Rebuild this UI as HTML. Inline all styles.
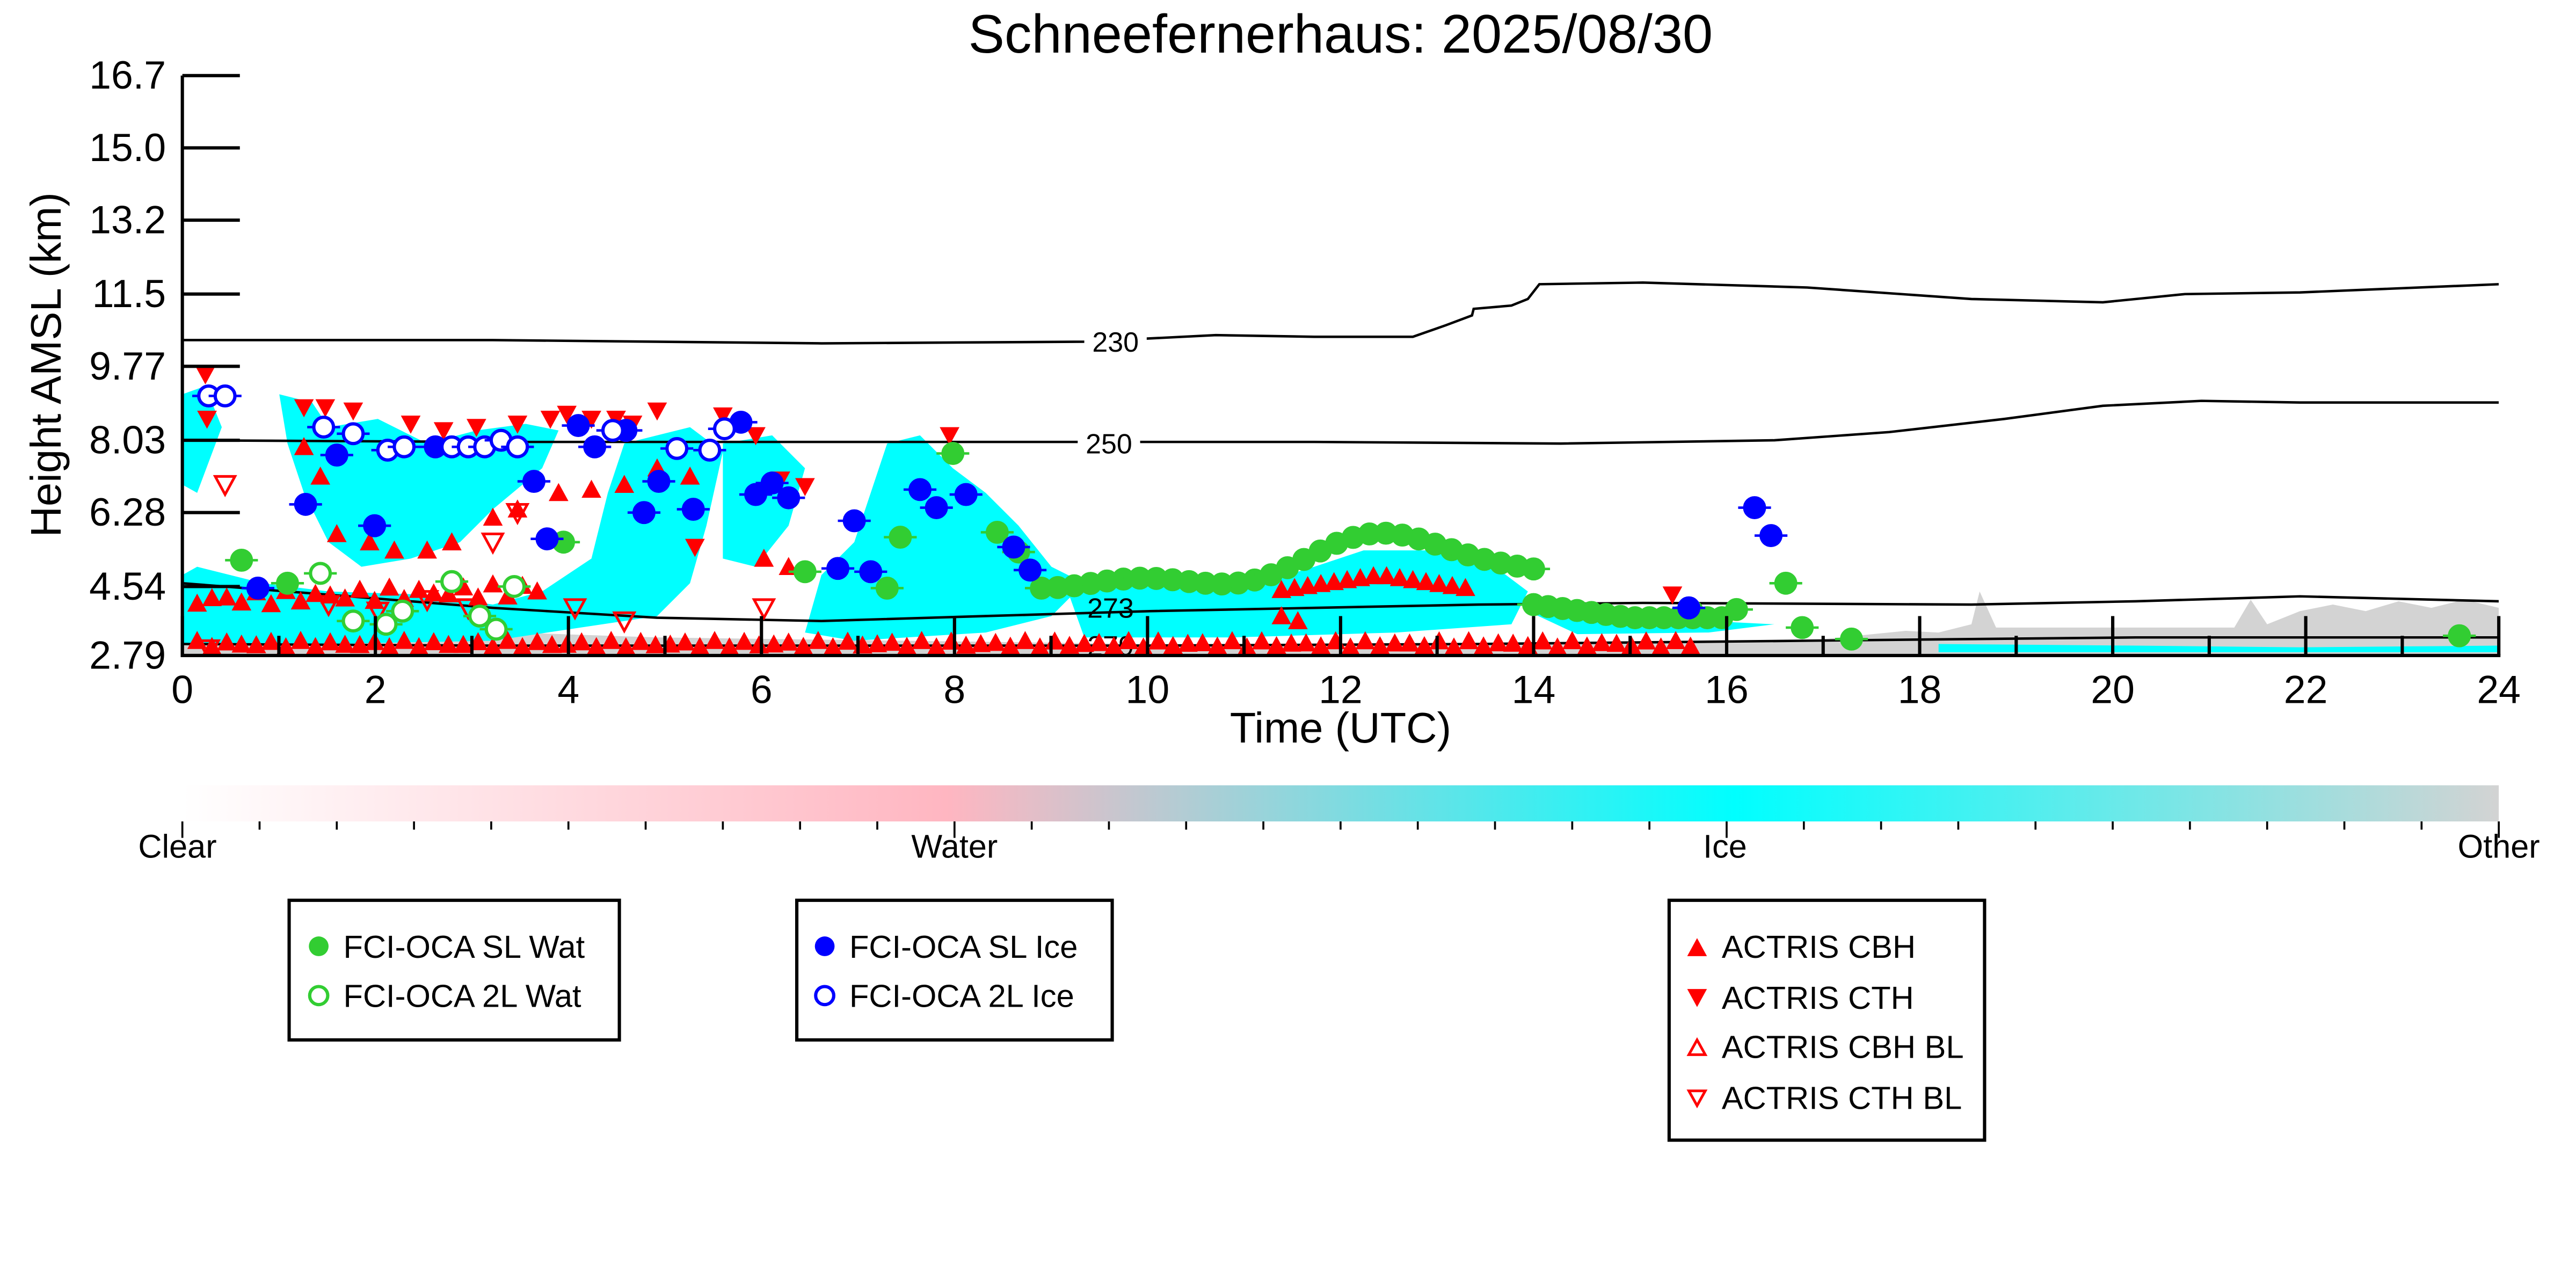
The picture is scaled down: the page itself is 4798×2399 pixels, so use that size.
<!DOCTYPE html>
<html><head><meta charset="utf-8"><style>
html,body{margin:0;padding:0;background:#fff;}
svg{display:block}
text{font-family:"Liberation Sans","DejaVu Sans",sans-serif;}
</style></head><body>
<svg id="s" width="4798" height="2399" viewBox="0 0 1568 784" xmlns="http://www.w3.org/2000/svg">
<defs>
<linearGradient id="cb" x1="0" x2="1" y1="0" y2="0">
<stop offset="0" stop-color="#ffffff"/>
<stop offset="0.33" stop-color="#ffb6c1"/>
<stop offset="0.67" stop-color="#00ffff"/>
<stop offset="1" stop-color="#d3d3d3"/>
</linearGradient>
<clipPath id="pc"><rect x="111" y="46" width="1410" height="353"/></clipPath>
</defs>
<rect width="1568" height="784" fill="#fff"/>
<text x="816" y="32" font-size="33" text-anchor="middle">Schneefernerhaus: 2025/08/30</text>
<g id="plot" clip-path="url(#pc)">
<path d="M111,399 L111,378 L400,388 L700,392 L900,392 L1100,390 L1140,386 L1160,384 L1180,385 L1200,380 L1205,360 L1215,382 L1360,382 L1370,365 L1380,380 L1400,372 L1420,368 L1440,372 L1460,366 L1480,370 L1500,365 L1521,370 L1521,399 Z" fill="#d3d3d3"/>
<g fill="#00ffff">
<path d="M111,240 L125,235 L135,260 L120,300 L111,295 Z"/>
<path d="M170,240 L190,245 L200,260 L230,255 L260,270 L290,262 L320,258 L340,262 L330,285 L300,310 L280,330 L250,340 L220,345 L200,330 L185,300 L175,270 Z"/>
<path d="M120,345 L160,355 L200,360 L260,362 L300,368 L330,360 L360,340 L370,300 L380,270 L420,260 L440,275 L430,320 L420,355 L400,375 L300,390 L200,392 L111,392 L111,350 Z"/>
<path d="M440,270 L470,265 L490,285 L480,320 L460,345 L440,340 Z"/>
<path d="M540,270 L560,265 L580,285 L600,300 L620,320 L640,345 L660,355 L640,375 L600,385 L520,390 L490,385 L500,350 L520,330 L530,300 Z"/>
<path d="M650,360 L700,350 L750,360 L800,345 L830,335 L870,335 L910,345 L930,360 L920,380 L850,385 L750,388 L660,388 Z"/>
<path d="M930,372 L990,375 L1040,378 L1080,380 L1040,385 L960,386 Z"/>
<path d="M1180,392 L1300,393 L1400,394 L1521,393 L1521,397 L1180,397 Z"/>
</g>
<g fill="none" stroke="#000" stroke-width="1.5">
<path d="M111,207 L300,207 L500,209 L660,208 L700,206 L740,204 L800,205 L860,205 L880,198 L896,192 L897,188 L920,186 L930,182 L937,173 L1000,172 L1100,175 L1200,182 L1280,184 L1310,181 L1330,179 L1400,178 L1521,173"/>
<path d="M111,268 L300,269 L500,269 L650,269 L800,269 L950,270 L1080,268 L1150,263 L1220,255 L1280,247 L1340,244 L1400,245 L1521,245"/>
<path d="M111,355 L200,362 L300,370 L400,376 L500,378 L600,375 L700,372 L800,370 L900,368 L1000,367 L1200,368 L1300,366 L1400,363 L1521,366"/>
<path d="M111,392 L300,393 L500,393 L700,393 L900,392 L1100,390 L1300,388 L1521,388"/>
</g>
<g font-size="17" text-anchor="middle">
<rect x="660" y="199" width="38" height="16" fill="#fff"/><text x="679" y="214">230</text>
<rect x="656" y="261" width="38" height="16" fill="#fff"/><text x="675" y="276">250</text>
<text x="676" y="376">273</text>
<text x="676" y="399">279</text>
</g>
<g id="marks"></g>
</g>
<g stroke="#000" stroke-width="2" fill="none">
<line x1="111" y1="46" x2="111" y2="400"/>
<line x1="110" y1="399" x2="1522" y2="399"/>
</g>
<g id="ticks" stroke="#000" stroke-width="2"></g>
<g font-size="24" text-anchor="end">
<text x="101" y="54">16.7</text><text x="101" y="98">15.0</text><text x="101" y="142">13.2</text>
<text x="101" y="187">11.5</text><text x="101" y="231">9.77</text><text x="101" y="276">8.03</text>
<text x="101" y="320">6.28</text><text x="101" y="365">4.54</text><text x="101" y="407">2.79</text>
</g>
<g id="xl" font-size="24" text-anchor="middle"></g>
<text x="816" y="452" font-size="26" text-anchor="middle">Time (UTC)</text>
<text transform="translate(37,222) rotate(-90)" font-size="26" text-anchor="middle">Height AMSL (km)</text>
<rect x="111" y="478" width="1410" height="22" fill="url(#cb)"/>
<g id="cbt" stroke="#000" stroke-width="1.2"></g>
<g font-size="20" text-anchor="middle">
<text x="108" y="522">Clear</text><text x="581" y="522">Water</text><text x="1050" y="522">Ice</text><text x="1521" y="522">Other</text>
</g>
<g fill="none" stroke="#000" stroke-width="2">
<rect x="176" y="548" width="201" height="85"/>
<rect x="485" y="548" width="192" height="85"/>
<rect x="1016" y="548" width="192" height="146"/>
</g>
<g font-size="19.5">
<circle cx="194" cy="576" r="6" fill="#32cd32"/><text x="209" y="583">FCI-OCA SL Wat</text>
<circle cx="194" cy="606" r="5.5" fill="none" stroke="#32cd32" stroke-width="2"/><text x="209" y="613">FCI-OCA 2L Wat</text>
<circle cx="502" cy="576" r="6" fill="#0000ff"/><text x="517" y="583">FCI-OCA SL Ice</text>
<circle cx="502" cy="606" r="5.5" fill="none" stroke="#0000ff" stroke-width="2"/><text x="517" y="613">FCI-OCA 2L Ice</text>
<path d="M1027,582 L1039,582 L1033,571 Z" fill="#f00"/><text x="1048" y="583">ACTRIS CBH</text>
<path d="M1027,602 L1039,602 L1033,613 Z" fill="#f00"/><text x="1048" y="614">ACTRIS CTH</text>
<path d="M1028,642 L1038,642 L1033,633 Z" fill="none" stroke="#f00" stroke-width="1.6"/><text x="1048" y="644">ACTRIS CBH BL</text>
<path d="M1028,664 L1038,664 L1033,673 Z" fill="none" stroke="#f00" stroke-width="1.6"/><text x="1048" y="675">ACTRIS CTH BL</text>
</g>
</svg>
<script>
var NS="http://www.w3.org/2000/svg";
function el(p,t,a){var e=document.createElementNS(NS,t);for(var k in a)e.setAttribute(k,a[k]);p.appendChild(e);return e;}
var X=function(h){return 111+h*58.75;};
var tk=document.getElementById('ticks'),xl=document.getElementById('xl');
[46,90,134,179,223,268,312,357,399].forEach(function(y){el(tk,'line',{x1:111,y1:y,x2:146,y2:y});});
for(var h=0;h<=24;h++){var x=X(h);el(tk,'line',{x1:x,y1:399,x2:x,y2:h%2?387:375});
if(h%2==0){var t=el(xl,'text',{x:x,y:428});t.textContent=h;}}
var cb=document.getElementById('cbt');
for(var i=0;i<=30;i++){var x=111+i*47;el(cb,'line',{x1:x,y1:500,x2:x,y2:i%10==0?510:505});}
var m=document.getElementById('marks');
function up(x,y,f){el(m,'path',{d:'M'+(x-6)+','+(y+5)+' L'+(x+6)+','+(y+5)+' L'+x+','+(y-6)+' Z',fill:f?'#f00':'none',stroke:'#f00','stroke-width':f?0:1.6});}
function dn(x,y,f){el(m,'path',{d:'M'+(x-6)+','+(y-5)+' L'+(x+6)+','+(y-5)+' L'+x+','+(y+6)+' Z',fill:f?'#f00':'none',stroke:'#f00','stroke-width':f?0:1.6});}
function dot(x,y,c,f){el(m,'line',{x1:x-10,y1:y,x2:x+10,y2:y,stroke:c,'stroke-width':1.5});el(m,'circle',{cx:x,cy:y,r:6,fill:f?c:'#fff',stroke:c,'stroke-width':2});}
for(var x=120;x<1030;x+=9){var y=392+Math.sin(x*0.3)*2;up(x,y,true);}
for(var x=780;x<900;x+=8){up(x,350+Math.abs(x-840)*0.15,true);}
for(var x=120;x<330;x+=9){up(x,365-(x-120)*0.03+Math.sin(x)*4,true);}
[[185,272],[195,290],[205,325],[225,330],[240,335],[260,335],[275,330],[300,315],[315,310],[340,300],[360,298],[380,295],[400,285],[420,290],[465,340],[480,345],[780,375],[790,378]].forEach(function(p){up(p[0],p[1],true);});
[[125,228],[185,248],[198,248],[215,250],[250,258],[270,262],[290,260],[315,258],[335,255],[345,252],[360,255],[375,255],[385,258],[400,250],[440,253],[460,265],[475,292],[490,296],[578,265],[423,333],[126,255],[1018,362]].forEach(function(p){dn(p[0],p[1],true);});
[[127,395],[137,295],[200,368],[230,372],[260,365],[285,370],[300,330],[315,312],[350,370],[380,378],[465,370]].forEach(function(p){dn(p[0],p[1],false);});
var g=[[147,341],[175,355],[343,330],[490,348],[540,358],[548,327],[580,276],[607,324],[620,336],[1030,372],[1057,371],[1087,355],[1097,382],[1127,389],[1497,387]];
for(var h=8.9;h<14;h+=0.17){var x=X(h);var y=355-30*Math.exp(-Math.pow((h-12.6)/1.1,2))+Math.sin(h*3)*3;g.push([x,y]);}
for(var h=14;h<16;h+=0.15){g.push([X(h),368+ (h<15?h-14:1)*8]);}
g.forEach(function(p){dot(p[0],p[1],'#32cd32',true);});
[[195,349],[215,378],[235,380],[245,372],[275,354],[292,375],[302,383],[313,357]].forEach(function(p){dot(p[0],p[1],'#32cd32',false);});
[[157,358],[186,307],[205,277],[228,320],[265,272],[325,293],[333,328],[352,259],[362,272],[381,262],[392,312],[401,293],[422,310],[451,257],[460,301],[470,294],[480,303],[510,346],[520,317],[530,348],[560,298],[570,309],[588,301],[617,333],[627,347],[1028,370],[1068,309],[1078,326]].forEach(function(p){dot(p[0],p[1],'#0000ff',true);});
[[127,241],[137,241],[197,260],[215,264],[236,274],[246,272],[275,272],[285,272],[295,272],[305,268],[315,272],[373,262],[412,273],[432,274],[441,261]].forEach(function(p){dot(p[0],p[1],'#0000ff',false);});
</script>
</body></html>
